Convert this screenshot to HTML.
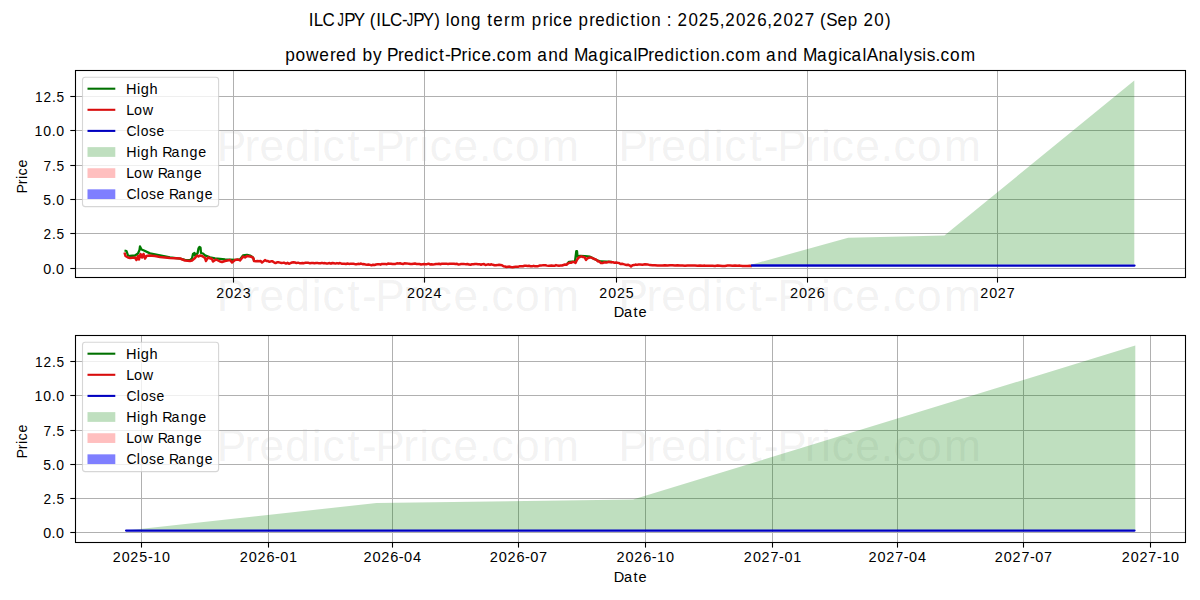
<!DOCTYPE html><html><head><meta charset="utf-8"><style>html,body{margin:0;padding:0;background:#fff;}svg{display:block;}text{font-family:"Liberation Sans",sans-serif;}</style></head><body>
<svg width="1200" height="600" viewBox="0 0 1200 600">
<rect width="1200" height="600" fill="#fff"/>
<text transform="scale(0.7200,1)" x="468.83" y="25.70" font-size="17.67" fill="#000" >J</text>
<text transform="scale(0.7200,1)" x="564.84" y="25.70" font-size="17.67" fill="#000" >J</text>
<text transform="scale(0.9622,1)" x="320.90 326.17 335.07 335.07 350.83 357.76 367.57 367.57 384.20 391.05 396.31 405.22 417.89 422.68 429.61 439.42 451.45 451.45 463.24 467.97 478.76 489.56 489.56 506.44 512.76 523.90 530.84 530.84 552.73 563.96 570.55 575.03 584.82 584.82 601.18 612.41 618.61 629.26 640.21 644.68 654.94 661.26 665.99 676.77 676.77 693.07 693.07 704.26 715.47 726.23 737.37 747.96 753.69 764.90 775.65 786.87 797.39 803.11 814.32 825.08 836.26 836.26 852.17 858.60 870.32 881.19 881.19 897.30 908.51 919.79" y="25.70" font-size="17.67" fill="#000" >ILC  PY (ILC- PY) long term price prediction : 2025,2026,2027 (Sep 20)</text>
<text transform="scale(0.9787,1)" x="291.49 301.97 312.64 326.33 337.32 343.40 353.88 353.88 370.29 381.09 381.09 395.46 406.78 412.86 423.34 434.16 438.53 448.65 454.60 460.13 471.44 477.95 482.32 491.96 502.31 507.53 517.10 528.18 528.18 548.83 560.09 570.73 570.73 586.52 600.86 612.00 622.82 627.18 636.13 647.29 651.13 662.44 668.52 679.01 689.82 694.19 704.32 710.55 715.16 725.77 736.27 741.49 751.07 762.14 762.14 782.79 794.06 804.70 804.70 820.49 834.83 845.96 856.78 861.15 870.10 881.25 885.49 897.71 907.63 918.79 923.72 933.30 942.43 946.87 955.84 961.05 970.63 981.70" y="61.50" font-size="17.67" fill="#000" >powered by Predict-Price.com and MagicalPrediction.com and MagicalAnalysis.com</text>
<text transform="scale(1.0014,1)" x="216.41 244.26 259.07 284.75 311.38 321.94 346.83 361.39 374.76 402.61 418.62 429.19 452.77 478.23 490.89 514.33 541.32" y="161.00" font-size="44.17" fill="#808080" fill-opacity="0.11">Predict-Price.com</text>
<text transform="scale(1.0014,1)" x="617.76 645.61 660.42 686.10 712.73 723.29 748.18 762.74 776.10 803.96 819.97 830.54 854.12 879.58 892.24 915.68 942.67" y="161.00" font-size="44.17" fill="#808080" fill-opacity="0.11">Predict-Price.com</text>
<clipPath id="c70"><rect x="75" y="70" width="1110" height="207"/></clipPath>
<g clip-path="url(#c70)">
<line x1="233.5" y1="70" x2="233.5" y2="277" stroke="#b0b0b0" stroke-width="1"/>
<line x1="424.5" y1="70" x2="424.5" y2="277" stroke="#b0b0b0" stroke-width="1"/>
<line x1="616.5" y1="70" x2="616.5" y2="277" stroke="#b0b0b0" stroke-width="1"/>
<line x1="807.5" y1="70" x2="807.5" y2="277" stroke="#b0b0b0" stroke-width="1"/>
<line x1="997.5" y1="70" x2="997.5" y2="277" stroke="#b0b0b0" stroke-width="1"/>
<line x1="75" y1="268.5" x2="1185" y2="268.5" stroke="#b0b0b0" stroke-width="1"/>
<line x1="75" y1="233.5" x2="1185" y2="233.5" stroke="#b0b0b0" stroke-width="1"/>
<line x1="75" y1="199.5" x2="1185" y2="199.5" stroke="#b0b0b0" stroke-width="1"/>
<line x1="75" y1="165.5" x2="1185" y2="165.5" stroke="#b0b0b0" stroke-width="1"/>
<line x1="75" y1="130.5" x2="1185" y2="130.5" stroke="#b0b0b0" stroke-width="1"/>
<line x1="75" y1="96.5" x2="1185" y2="96.5" stroke="#b0b0b0" stroke-width="1"/>
<polygon points="752.00,264.40 848.20,237.80 944.40,235.50 1134.30,80.40 1134.30,264.40" fill="#008000" fill-opacity="0.25"/>
<polyline points="124.50,250.50 126.50,251.00 128.00,255.50 130.00,256.00 135.00,255.50 138.00,253.50 139.50,250.00 140.00,246.50 141.50,249.50 144.00,250.50 150.00,253.40 160.00,255.40 170.00,257.40 180.00,258.70 185.00,259.90 190.00,260.10 192.00,258.50 193.00,254.00 194.50,253.00 195.00,255.50 197.50,253.50 198.50,248.50 199.50,247.00 200.50,247.50 201.00,253.00 203.00,253.50 205.00,255.40 210.00,257.40 215.00,258.40 225.00,259.40 235.00,259.90 240.00,259.40 243.00,255.50 247.00,254.80 250.00,255.50 253.00,257.50 254.00,260.50" fill="none" stroke="#007a00" stroke-width="2.3" stroke-linejoin="round"/>
<polyline points="567.00,264.00 569.00,261.80 575.00,261.50 576.30,251.20 577.00,251.20 577.50,256.50 580.00,256.00 585.00,256.20 590.00,256.70 593.00,258.20 598.00,260.70 601.00,261.50 612.00,262.00" fill="none" stroke="#007a00" stroke-width="2.3" stroke-linejoin="round"/>
<polyline points="124.50,252.50 125.50,256.00 128.00,257.50 130.00,258.00 135.00,257.50 136.50,260.00 138.00,256.00 139.00,259.50 140.50,254.00 142.00,257.50 143.50,254.00 145.00,258.50 146.50,256.00 149.00,255.50 155.00,256.00 160.00,257.00 170.00,258.00 180.00,258.50 185.00,260.50 190.00,261.00 192.00,260.50 195.00,258.00 197.00,255.50 198.50,256.50 200.00,255.50 202.00,256.00 205.00,258.00 206.00,261.00 208.00,257.50 212.00,259.00 213.00,261.50 216.00,259.50 220.00,261.50 222.00,262.00 225.00,261.00 230.00,260.00 232.00,262.50 235.00,260.00 238.00,259.50 240.00,260.50 242.00,258.00 243.00,256.50 245.00,257.50 247.00,256.00 250.00,256.50 252.00,257.00 253.50,258.50 254.00,261.00 256.00,261.34 257.50,261.00 259.00,261.26 260.50,260.99 262.00,262.53 263.50,261.38 265.00,260.10 266.50,261.01 268.00,261.08 269.50,261.82 271.00,261.36 272.50,261.35 274.00,262.30 275.50,263.06 277.00,262.34 278.50,262.34 280.00,262.61 281.50,263.05 283.00,262.87 284.50,262.86 286.00,263.53 287.50,262.84 289.00,263.72 290.50,263.14 292.00,262.51 293.50,262.20 295.00,262.50 296.50,263.08 298.00,262.64 299.50,263.13 301.00,263.23 302.50,262.99 304.00,263.14 305.50,262.71 307.00,262.70 308.50,262.84 310.00,263.26 311.50,263.03 313.00,262.93 314.50,263.18 316.00,263.06 317.50,262.92 319.00,263.36 320.50,263.28 322.00,262.87 323.50,263.17 325.00,263.12 326.50,263.48 328.00,263.38 329.50,263.03 331.00,263.69 332.50,262.95 334.00,263.26 335.50,263.60 337.00,263.10 338.50,263.44 340.00,263.08 341.50,263.68 343.00,263.81 344.50,263.67 346.00,263.98 347.50,263.52 349.00,263.90 350.50,263.84 352.00,263.86 353.50,263.77 355.00,264.14 356.50,264.26 358.00,263.86 359.50,264.06 361.00,263.54 362.50,264.14 364.00,264.12 365.50,264.54 367.00,264.69 368.50,264.51 370.00,264.90 371.50,265.30 373.00,264.68 374.50,264.93 376.00,264.53 377.50,264.35 379.00,264.16 380.50,264.66 382.00,263.94 383.50,263.91 385.00,263.90 386.50,264.27 388.00,263.50 389.50,263.77 391.00,263.80 392.50,264.05 394.00,263.93 395.50,263.91 397.00,263.32 398.50,263.38 400.00,263.27 401.50,263.84 403.00,263.99 404.50,263.36 406.00,263.47 407.50,263.61 409.00,263.70 410.50,263.99 412.00,264.09 413.50,263.80 415.00,263.57 416.50,263.94 418.00,263.90 419.50,264.08 421.00,264.44 422.50,264.20 424.00,264.05 425.50,264.14 427.00,264.20 428.50,263.64 430.00,264.41 431.50,264.31 433.00,264.39 434.50,264.33 436.00,263.97 437.50,263.98 439.00,263.72 440.50,264.20 442.00,263.69 443.50,263.69 445.00,263.83 446.50,263.79 448.00,263.95 449.50,263.70 451.00,263.66 452.50,263.81 454.00,263.78 455.50,264.03 457.00,263.74 458.50,264.52 460.00,264.30 461.50,263.90 463.00,264.01 464.50,264.11 466.00,264.14 467.50,263.94 469.00,264.60 470.50,264.75 472.00,264.29 473.50,264.32 475.00,263.98 476.50,264.01 478.00,264.24 479.50,264.18 481.00,264.73 482.50,264.17 484.00,264.09 485.50,264.97 487.00,264.64 488.50,264.34 490.00,264.74 491.50,264.32 493.00,264.82 494.50,265.27 496.00,265.21 497.50,265.10 499.00,264.76 500.50,265.03 502.00,265.30 503.50,266.29 505.00,266.53 506.50,266.95 508.00,266.75 509.50,266.59 511.00,267.06 512.50,267.15 514.00,266.97 515.50,266.87 517.00,266.82 518.50,266.69 520.00,266.16 521.50,266.36 523.00,266.16 524.50,265.80 526.00,265.74 527.50,265.90 529.00,265.82 530.50,266.16 532.00,266.34 533.50,265.84 535.00,266.23 536.50,266.22 538.00,266.14 539.50,265.56 541.00,265.38 542.50,265.34 544.00,265.26 545.50,265.23 547.00,265.61 548.50,265.86 550.00,265.81 551.50,265.48 553.00,265.64 554.50,265.77 556.00,265.10 557.50,265.57 559.00,265.75 560.50,265.60 562.00,265.53 563.50,265.04 565.00,264.53 566.50,264.84 568.00,263.35 569.50,262.73 571.00,262.76 572.50,262.11 574.00,261.99 575.50,262.90 577.00,259.70 578.50,257.70 580.00,256.83 581.50,256.35 583.00,257.03 584.50,257.19 586.00,259.90 587.50,258.22 589.00,257.80 590.50,257.39 592.00,257.87 593.50,258.79 595.00,259.17 596.50,259.81 598.00,261.42 599.50,261.51 601.00,263.02 602.50,263.02 604.00,262.34 605.50,262.58 607.00,262.39 608.50,261.80 610.00,262.03 611.50,262.25 613.00,262.33 614.50,262.73 616.00,262.52 617.50,262.84 619.00,262.93 620.50,263.97 622.00,263.77 623.50,264.16 625.00,264.58 626.50,265.01 628.00,264.73 629.50,265.33 631.00,266.40 632.50,265.20 634.00,265.12 635.50,264.59 637.00,264.90 638.50,264.59 640.00,264.55 642.50,264.77 645.00,264.28 647.50,264.40 650.00,265.11 652.50,265.15 655.00,265.16 657.50,265.38 660.00,265.53 662.50,265.60 665.00,265.22 667.50,265.41 670.00,265.21 672.50,265.19 675.00,265.47 677.50,265.36 680.00,265.42 682.50,265.54 685.00,265.65 687.50,265.44 690.00,265.55 692.50,265.52 695.00,265.55 697.50,265.67 700.00,265.58 702.50,265.63 705.00,265.62 707.50,265.86 710.00,265.76 712.50,265.86 715.00,265.91 717.50,265.58 720.00,265.75 722.50,265.95 725.00,265.91 727.50,265.58 730.00,265.58 732.50,265.76 735.00,265.59 737.50,265.69 740.00,265.62 742.50,265.93 745.00,266.00 747.50,266.07 750.00,265.72 752.00,265.90" fill="none" stroke="#e01010" stroke-width="2.5" stroke-linejoin="round"/>
<polyline points="752.00,265.50 1134.50,265.60" fill="none" stroke="#0000c4" stroke-width="2.3" stroke-linecap="round"/>
</g>
<rect x="75.5" y="70.5" width="1110" height="207" fill="none" stroke="#000" stroke-width="1.1"/>
<line x1="233.5" y1="278" x2="233.5" y2="282.60" stroke="#000" stroke-width="1.1"/>
<text transform="scale(0.9669,1)" x="223.55 232.88 241.83 251.18" y="297.60" font-size="14.72" fill="#000" >2023</text>
<line x1="424.5" y1="278" x2="424.5" y2="282.60" stroke="#000" stroke-width="1.1"/>
<text transform="scale(0.9772,1)" x="416.42 425.66 434.51 443.74" y="297.60" font-size="14.72" fill="#000" >2024</text>
<line x1="616.5" y1="278" x2="616.5" y2="282.60" stroke="#000" stroke-width="1.1"/>
<text transform="scale(0.9627,1)" x="622.44 631.81 640.80 650.12" y="297.60" font-size="14.72" fill="#000" >2025</text>
<line x1="807.5" y1="278" x2="807.5" y2="282.60" stroke="#000" stroke-width="1.1"/>
<text transform="scale(0.9855,1)" x="801.60 810.76 819.54 828.69" y="297.60" font-size="14.72" fill="#000" >2026</text>
<line x1="997.5" y1="278" x2="997.5" y2="282.60" stroke="#000" stroke-width="1.1"/>
<text transform="scale(0.9714,1)" x="1009.05 1018.33 1027.24 1036.50" y="297.60" font-size="14.72" fill="#000" >2027</text>
<line x1="70.30" y1="268.5" x2="75" y2="268.5" stroke="#000" stroke-width="1.1"/>
<text transform="scale(0.9719,1)" x="44.43 53.13 57.73" y="273.60" font-size="14.72" fill="#000" >0.0</text>
<line x1="70.30" y1="233.5" x2="75" y2="233.5" stroke="#000" stroke-width="1.1"/>
<text transform="scale(0.9312,1)" x="46.67 55.85 60.68" y="238.60" font-size="14.72" fill="#000" >2.5</text>
<line x1="70.30" y1="199.5" x2="75" y2="199.5" stroke="#000" stroke-width="1.1"/>
<text transform="scale(0.9473,1)" x="45.64 54.56 59.34" y="204.60" font-size="14.72" fill="#000" >5.0</text>
<line x1="70.30" y1="165.5" x2="75" y2="165.5" stroke="#000" stroke-width="1.1"/>
<text transform="scale(0.9374,1)" x="46.50 55.47 60.26" y="170.60" font-size="14.72" fill="#000" >7.5</text>
<line x1="70.30" y1="130.5" x2="75" y2="130.5" stroke="#000" stroke-width="1.1"/>
<text transform="scale(0.9586,1)" x="36.05 45.11 53.90 58.59" y="135.60" font-size="14.72" fill="#000" >10.0</text>
<line x1="70.30" y1="96.5" x2="75" y2="96.5" stroke="#000" stroke-width="1.1"/>
<text transform="scale(0.9297,1)" x="37.61 46.75 55.94 60.79" y="101.60" font-size="14.72" fill="#000" >12.5</text>
<text transform="scale(0.9910,1)" x="619.29 629.65 639.24 644.31" y="317.40" font-size="14.72" fill="#000" >Date</text>
<g transform="translate(26.80,176.00) rotate(-90)"><text transform="scale(0.9699,1)" x="-18.14 -8.63 -3.16 0.55 8.67" y="0.00" font-size="14.72" fill="#000" >Price</text></g>
<rect x="82.5" y="77.25" width="136.10" height="129.35" rx="2.8" ry="2.8" fill="#fff" fill-opacity="0.8" stroke="#cccccc" stroke-opacity="0.8" stroke-width="1.11"/>
<line x1="87.5" y1="88.70" x2="115.3" y2="88.70" stroke="#007000" stroke-width="2.08"/>
<text transform="scale(0.9895,1)" x="127.43 138.35 142.20 151.20" y="93.80" font-size="14.72" fill="#000" >High</text>
<line x1="87.5" y1="109.80" x2="115.3" y2="109.80" stroke="#d80c0c" stroke-width="2.08"/>
<text transform="scale(0.9723,1)" x="129.91 137.71 146.69" y="114.90" font-size="14.72" fill="#000" >Low</text>
<line x1="87.5" y1="130.90" x2="115.3" y2="130.90" stroke="#0000c0" stroke-width="2.08"/>
<text transform="scale(0.9460,1)" x="133.68 144.61 148.68 157.51 165.36" y="136.00" font-size="14.72" fill="#000" >Close</text>
<rect x="87.5" y="147.14" width="27.8" height="9.72" fill="#bfdfbf"/>
<text transform="scale(0.9687,1)" x="130.28 141.36 145.35 154.54 154.54 167.63 177.14 186.64 195.62 204.70" y="157.10" font-size="14.72" fill="#000" >High Range</text>
<rect x="87.5" y="168.24" width="27.8" height="9.72" fill="#ffbfbf"/>
<text transform="scale(0.9624,1)" x="131.30 139.17 148.26 148.26 164.00 173.57 183.13 192.17 201.31" y="178.20" font-size="14.72" fill="#000" >Low Range</text>
<rect x="87.5" y="189.34" width="27.8" height="9.72" fill="#7f7fff"/>
<text transform="scale(0.9513,1)" x="132.91 143.80 147.84 156.62 164.43 164.43 177.62 187.29 196.96 206.10 215.35" y="199.30" font-size="14.72" fill="#000" >Close Range</text>
<text transform="scale(1.0014,1)" x="216.41 244.26 259.07 284.75 311.38 321.94 346.83 361.39 374.76 402.61 418.62 429.19 452.77 478.23 490.89 514.33 541.32" y="311.25" font-size="44.17" fill="#808080" fill-opacity="0.11">Predict-Price.com</text>
<text transform="scale(1.0014,1)" x="617.76 645.61 660.42 686.10 712.73 723.29 748.18 762.74 776.10 803.96 819.97 830.54 854.12 879.58 892.24 915.68 942.67" y="311.25" font-size="44.17" fill="#808080" fill-opacity="0.11">Predict-Price.com</text>
<text transform="scale(1.0014,1)" x="216.41 244.26 259.07 284.75 311.38 321.94 346.83 361.39 374.76 402.61 418.62 429.19 452.77 478.23 490.89 514.33 541.32" y="461.00" font-size="44.17" fill="#808080" fill-opacity="0.11">Predict-Price.com</text>
<text transform="scale(1.0014,1)" x="617.76 645.61 660.42 686.10 712.73 723.29 748.18 762.74 776.10 803.96 819.97 830.54 854.12 879.58 892.24 915.68 942.67" y="461.00" font-size="44.17" fill="#808080" fill-opacity="0.11">Predict-Price.com</text>
<clipPath id="c335"><rect x="75" y="335" width="1110" height="207"/></clipPath>
<g clip-path="url(#c335)">
<line x1="141.5" y1="335" x2="141.5" y2="542" stroke="#b0b0b0" stroke-width="1"/>
<line x1="268.5" y1="335" x2="268.5" y2="542" stroke="#b0b0b0" stroke-width="1"/>
<line x1="392.5" y1="335" x2="392.5" y2="542" stroke="#b0b0b0" stroke-width="1"/>
<line x1="518.5" y1="335" x2="518.5" y2="542" stroke="#b0b0b0" stroke-width="1"/>
<line x1="645.5" y1="335" x2="645.5" y2="542" stroke="#b0b0b0" stroke-width="1"/>
<line x1="772.5" y1="335" x2="772.5" y2="542" stroke="#b0b0b0" stroke-width="1"/>
<line x1="897.5" y1="335" x2="897.5" y2="542" stroke="#b0b0b0" stroke-width="1"/>
<line x1="1023.5" y1="335" x2="1023.5" y2="542" stroke="#b0b0b0" stroke-width="1"/>
<line x1="1150.5" y1="335" x2="1150.5" y2="542" stroke="#b0b0b0" stroke-width="1"/>
<line x1="75" y1="532.5" x2="1185" y2="532.5" stroke="#b0b0b0" stroke-width="1"/>
<line x1="75" y1="498.5" x2="1185" y2="498.5" stroke="#b0b0b0" stroke-width="1"/>
<line x1="75" y1="464.5" x2="1185" y2="464.5" stroke="#b0b0b0" stroke-width="1"/>
<line x1="75" y1="430.5" x2="1185" y2="430.5" stroke="#b0b0b0" stroke-width="1"/>
<line x1="75" y1="395.5" x2="1185" y2="395.5" stroke="#b0b0b0" stroke-width="1"/>
<line x1="75" y1="361.5" x2="1185" y2="361.5" stroke="#b0b0b0" stroke-width="1"/>
<polygon points="126.10,530.60 376.50,503.00 633.00,499.60 1135.30,345.60 1135.30,530.60" fill="#008000" fill-opacity="0.25"/>
<polyline points="126.10,530.60 1134.50,530.60" fill="none" stroke="#0000c4" stroke-width="2.3" stroke-linecap="round"/>
</g>
<rect x="75.5" y="335.5" width="1110" height="207" fill="none" stroke="#000" stroke-width="1.1"/>
<line x1="141.5" y1="543" x2="141.5" y2="547.60" stroke="#000" stroke-width="1.1"/>
<text transform="scale(0.9703,1)" x="116.15 125.44 134.36 143.60 152.44 157.86 167.04" y="561.70" font-size="14.72" fill="#000" >2025-10</text>
<line x1="268.5" y1="543" x2="268.5" y2="547.60" stroke="#000" stroke-width="1.1"/>
<text transform="scale(0.9843,1)" x="243.63 252.80 261.59 270.75 279.43 284.82 293.72" y="561.70" font-size="14.72" fill="#000" >2026-01</text>
<line x1="392.5" y1="543" x2="392.5" y2="547.60" stroke="#000" stroke-width="1.1"/>
<text transform="scale(0.9909,1)" x="366.89 376.00 384.73 393.84 402.47 407.81 416.73" y="561.70" font-size="14.72" fill="#000" >2026-04</text>
<line x1="518.5" y1="543" x2="518.5" y2="547.60" stroke="#000" stroke-width="1.1"/>
<text transform="scale(0.9875,1)" x="495.94 505.08 513.84 522.98 531.63 537.00 545.92" y="561.70" font-size="14.72" fill="#000" >2026-07</text>
<line x1="645.5" y1="543" x2="645.5" y2="547.60" stroke="#000" stroke-width="1.1"/>
<text transform="scale(0.9843,1)" x="626.45 635.61 644.40 653.57 662.25 667.56 676.61" y="561.70" font-size="14.72" fill="#000" >2026-10</text>
<line x1="772.5" y1="543" x2="772.5" y2="547.60" stroke="#000" stroke-width="1.1"/>
<text transform="scale(0.9757,1)" x="762.40 771.64 780.51 789.73 798.50 803.95 812.94" y="561.70" font-size="14.72" fill="#000" >2027-01</text>
<line x1="897.5" y1="543" x2="897.5" y2="547.60" stroke="#000" stroke-width="1.1"/>
<text transform="scale(0.9824,1)" x="884.12 893.31 902.12 911.27 919.99 925.39 934.39" y="561.70" font-size="14.72" fill="#000" >2027-04</text>
<line x1="1023.5" y1="543" x2="1023.5" y2="547.60" stroke="#000" stroke-width="1.1"/>
<text transform="scale(0.9789,1)" x="1016.20 1025.42 1034.26 1043.44 1052.19 1057.62 1066.62" y="561.70" font-size="14.72" fill="#000" >2027-07</text>
<line x1="1150.5" y1="543" x2="1150.5" y2="547.60" stroke="#000" stroke-width="1.1"/>
<text transform="scale(0.9757,1)" x="1149.64 1158.89 1167.76 1176.97 1185.74 1191.12 1200.25" y="561.70" font-size="14.72" fill="#000" >2027-10</text>
<line x1="70.30" y1="532.5" x2="75" y2="532.5" stroke="#000" stroke-width="1.1"/>
<text transform="scale(0.9719,1)" x="44.43 53.13 57.73" y="537.60" font-size="14.72" fill="#000" >0.0</text>
<line x1="70.30" y1="498.5" x2="75" y2="498.5" stroke="#000" stroke-width="1.1"/>
<text transform="scale(0.9312,1)" x="46.67 55.85 60.68" y="503.60" font-size="14.72" fill="#000" >2.5</text>
<line x1="70.30" y1="464.5" x2="75" y2="464.5" stroke="#000" stroke-width="1.1"/>
<text transform="scale(0.9473,1)" x="45.64 54.56 59.34" y="469.60" font-size="14.72" fill="#000" >5.0</text>
<line x1="70.30" y1="430.5" x2="75" y2="430.5" stroke="#000" stroke-width="1.1"/>
<text transform="scale(0.9374,1)" x="46.50 55.47 60.26" y="435.60" font-size="14.72" fill="#000" >7.5</text>
<line x1="70.30" y1="395.5" x2="75" y2="395.5" stroke="#000" stroke-width="1.1"/>
<text transform="scale(0.9586,1)" x="36.05 45.11 53.90 58.59" y="400.60" font-size="14.72" fill="#000" >10.0</text>
<line x1="70.30" y1="361.5" x2="75" y2="361.5" stroke="#000" stroke-width="1.1"/>
<text transform="scale(0.9297,1)" x="37.61 46.75 55.94 60.79" y="366.60" font-size="14.72" fill="#000" >12.5</text>
<text transform="scale(0.9910,1)" x="619.29 629.65 639.24 644.31" y="582.40" font-size="14.72" fill="#000" >Date</text>
<g transform="translate(26.80,441.00) rotate(-90)"><text transform="scale(0.9699,1)" x="-18.14 -8.63 -3.16 0.55 8.67" y="0.00" font-size="14.72" fill="#000" >Price</text></g>
<rect x="82.5" y="342.25" width="136.10" height="129.35" rx="2.8" ry="2.8" fill="#fff" fill-opacity="0.8" stroke="#cccccc" stroke-opacity="0.8" stroke-width="1.11"/>
<line x1="87.5" y1="353.70" x2="115.3" y2="353.70" stroke="#007000" stroke-width="2.08"/>
<text transform="scale(0.9895,1)" x="127.43 138.35 142.20 151.20" y="358.80" font-size="14.72" fill="#000" >High</text>
<line x1="87.5" y1="374.80" x2="115.3" y2="374.80" stroke="#d80c0c" stroke-width="2.08"/>
<text transform="scale(0.9723,1)" x="129.91 137.71 146.69" y="379.90" font-size="14.72" fill="#000" >Low</text>
<line x1="87.5" y1="395.90" x2="115.3" y2="395.90" stroke="#0000c0" stroke-width="2.08"/>
<text transform="scale(0.9460,1)" x="133.68 144.61 148.68 157.51 165.36" y="401.00" font-size="14.72" fill="#000" >Close</text>
<rect x="87.5" y="412.14" width="27.8" height="9.72" fill="#bfdfbf"/>
<text transform="scale(0.9687,1)" x="130.28 141.36 145.35 154.54 154.54 167.63 177.14 186.64 195.62 204.70" y="422.10" font-size="14.72" fill="#000" >High Range</text>
<rect x="87.5" y="433.24" width="27.8" height="9.72" fill="#ffbfbf"/>
<text transform="scale(0.9624,1)" x="131.30 139.17 148.26 148.26 164.00 173.57 183.13 192.17 201.31" y="443.20" font-size="14.72" fill="#000" >Low Range</text>
<rect x="87.5" y="454.34" width="27.8" height="9.72" fill="#7f7fff"/>
<text transform="scale(0.9513,1)" x="132.91 143.80 147.84 156.62 164.43 164.43 177.62 187.29 196.96 206.10 215.35" y="464.30" font-size="14.72" fill="#000" >Close Range</text>
</svg></body></html>
